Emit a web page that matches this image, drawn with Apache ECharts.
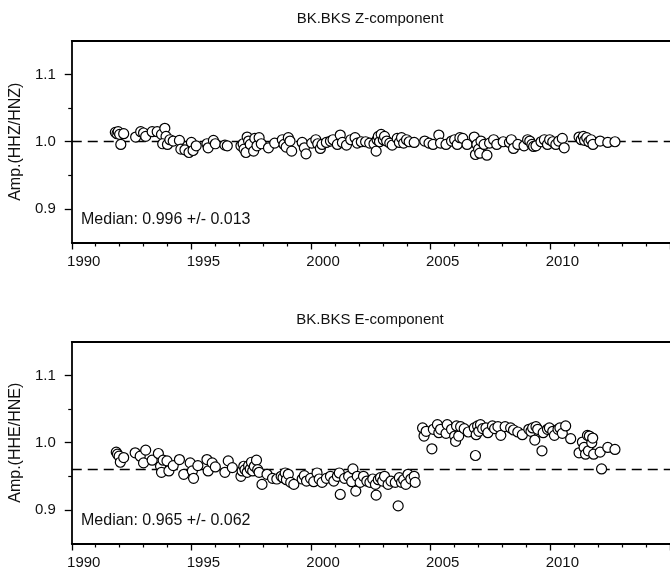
<!DOCTYPE html>
<html>
<head>
<meta charset="utf-8">
<script src="https://cdn.jsdelivr.net/npm/echarts@6/dist/echarts.min.js"></script>
<style>
  html, body { margin: 0; padding: 0; background: #fff; }
  #main { width: 670px; height: 577px; }
</style>
</head>
<body>
<div id="main"></div>
<script>
// panel titles and y axis names
var panelTitles = ['BK.BKS Z-component', 'BK.BKS E-component'];
var axisNames = ['Amp.(HHZ/HNZ)', 'Amp.(HHE/HNE)'];
var medians = [0.996, 0.965];
var spreads = [0.013, 0.062];
var yMajorTicks = [0.9, 1.0, 1.1];
var yMinorTicks = [0.95, 1.05];

// Z component: [decimal year, amplitude ratio]
var zData = [
  [1991.82, 1.014], [1991.89, 1.012], [1991.94, 1.015], [1992.00, 1.011], [1992.05, 0.996], [1992.17, 1.012],
  [1992.67, 1.007], [1992.88, 1.015], [1993.00, 1.013], [1993.09, 1.008], [1993.36, 1.015], [1993.57, 1.015],
  [1993.75, 1.011], [1993.89, 1.020], [1993.94, 1.008], [1993.80, 0.997], [1994.00, 0.996], [1994.10, 1.003],
  [1994.24, 1.001], [1994.50, 1.002], [1994.56, 0.989], [1994.73, 0.988], [1994.90, 0.984], [1995.00, 0.999],
  [1995.07, 0.987], [1995.20, 0.994], [1995.65, 0.997], [1995.70, 0.991], [1995.92, 1.002], [1996.00, 0.997],
  [1996.40, 0.995], [1996.50, 0.994],
  [1997.07, 0.994], [1997.16, 0.997], [1997.20, 0.989], [1997.28, 0.984], [1997.33, 1.007], [1997.39, 1.001],
  [1997.46, 0.996], [1997.60, 0.986], [1997.65, 1.005], [1997.74, 0.994], [1997.83, 1.006], [1997.92, 0.997],
  [1998.22, 0.991], [1998.48, 0.998], [1998.80, 1.003], [1998.87, 0.996], [1998.96, 0.992], [1999.05, 1.006],
  [1999.12, 1.001], [1999.19, 0.986], [1999.63, 0.999], [1999.72, 0.991], [1999.79, 0.982], [2000.03, 0.998],
  [2000.20, 1.003], [2000.28, 0.997], [2000.39, 0.990], [2000.46, 0.996], [2000.64, 0.999], [2000.81, 1.001],
  [2000.92, 1.003], [2001.10, 0.996], [2001.22, 1.010], [2001.31, 0.999], [2001.48, 0.995], [2001.66, 1.003],
  [2001.84, 1.006], [2001.93, 0.998], [2002.10, 1.000], [2002.28, 1.000], [2002.45, 0.998],
  [2002.63, 0.997], [2002.72, 0.986], [2002.76, 1.003], [2002.81, 1.008], [2002.86, 1.000], [2002.93, 1.011],
  [2003.02, 1.003], [2003.07, 1.008], [2003.16, 1.001], [2003.29, 0.998], [2003.39, 0.995], [2003.60, 1.005],
  [2003.69, 0.999], [2003.78, 1.006], [2003.87, 0.998], [2003.99, 1.003], [2004.10, 1.000], [2004.31, 0.999],
  [2004.75, 1.001], [2004.93, 0.998], [2005.10, 0.996], [2005.34, 1.010], [2005.41, 0.998], [2005.64, 0.996],
  [2005.87, 1.001], [2006.00, 1.003], [2006.11, 0.996], [2006.22, 1.006], [2006.34, 1.005], [2006.52, 0.996],
  [2006.82, 1.007], [2006.87, 0.981], [2006.93, 0.996], [2007.00, 0.989], [2007.05, 0.983], [2007.10, 1.001],
  [2007.23, 0.996], [2007.35, 0.980], [2007.46, 0.998], [2007.63, 1.003], [2007.76, 0.996], [2008.03, 1.000],
  [2008.29, 0.999], [2008.37, 1.003], [2008.46, 0.990], [2008.64, 0.996], [2008.90, 0.994], [2009.05, 1.003],
  [2009.14, 1.001], [2009.23, 0.996], [2009.30, 0.993], [2009.40, 0.994], [2009.61, 1.000], [2009.75, 1.003],
  [2009.88, 0.996], [2009.97, 1.003], [2010.10, 1.000], [2010.23, 0.996], [2010.35, 1.001], [2010.50, 1.005],
  [2010.58, 0.991],
  [2011.20, 1.007], [2011.29, 1.003], [2011.38, 1.008], [2011.43, 1.002], [2011.52, 1.006], [2011.61, 1.000],
  [2011.70, 1.003], [2011.78, 0.996], [2012.08, 1.001], [2012.40, 0.999], [2012.70, 1.000]
];

// E component: [decimal year, amplitude ratio]
var eData = [
  [1991.86, 0.986], [1991.91, 0.983], [1991.98, 0.980], [1992.03, 0.971], [1992.17, 0.978],
  [1992.65, 0.985], [1992.86, 0.980], [1993.00, 0.970], [1993.09, 0.989], [1993.36, 0.974], [1993.62, 0.984],
  [1993.71, 0.965], [1993.75, 0.956], [1993.82, 0.974], [1993.98, 0.973], [1994.06, 0.958], [1994.24, 0.966],
  [1994.50, 0.975], [1994.68, 0.953], [1994.95, 0.970], [1995.04, 0.958], [1995.09, 0.947], [1995.27, 0.966],
  [1995.65, 0.975], [1995.70, 0.958], [1995.87, 0.970], [1996.00, 0.964], [1996.40, 0.956], [1996.54, 0.973],
  [1996.71, 0.963],
  [1997.07, 0.950], [1997.12, 0.958], [1997.19, 0.965], [1997.24, 0.960], [1997.33, 0.956], [1997.39, 0.966],
  [1997.46, 0.961], [1997.51, 0.971], [1997.56, 0.958], [1997.63, 0.965], [1997.72, 0.974], [1997.77, 0.960],
  [1997.83, 0.956], [1997.95, 0.938], [1998.16, 0.953], [1998.39, 0.947], [1998.57, 0.946], [1998.75, 0.950],
  [1998.83, 0.948], [1998.92, 0.955], [1998.97, 0.945], [1999.05, 0.953], [1999.15, 0.941], [1999.28, 0.938],
  [1999.63, 0.946], [1999.72, 0.951], [1999.81, 0.943], [1999.98, 0.947], [2000.11, 0.942], [2000.25, 0.955],
  [2000.34, 0.946], [2000.46, 0.941], [2000.64, 0.947], [2000.81, 0.950], [2000.95, 0.943], [2001.10, 0.950],
  [2001.18, 0.955], [2001.22, 0.923], [2001.40, 0.947], [2001.57, 0.950], [2001.70, 0.942], [2001.75, 0.961],
  [2001.87, 0.928], [2001.93, 0.950], [2002.05, 0.941], [2002.19, 0.950], [2002.33, 0.943], [2002.46, 0.941],
  [2002.58, 0.946], [2002.69, 0.938], [2002.72, 0.922], [2002.81, 0.945], [2002.90, 0.948], [2002.99, 0.943],
  [2003.07, 0.950], [2003.22, 0.938], [2003.34, 0.943], [2003.52, 0.941], [2003.64, 0.906], [2003.69, 0.948],
  [2003.78, 0.941], [2003.87, 0.945], [2003.96, 0.938], [2004.05, 0.953], [2004.17, 0.946], [2004.31, 0.950],
  [2004.35, 0.941],
  [2004.66, 1.022], [2004.72, 1.010], [2004.81, 1.017], [2005.05, 0.991], [2005.11, 1.020], [2005.28, 1.027],
  [2005.34, 1.015], [2005.41, 1.020], [2005.64, 1.014], [2005.69, 1.027], [2005.87, 1.020], [2006.00, 1.010],
  [2006.04, 1.002], [2006.08, 1.025], [2006.17, 1.010], [2006.25, 1.024], [2006.40, 1.021], [2006.57, 1.016],
  [2006.87, 0.981], [2006.82, 1.022], [2006.90, 1.012], [2006.96, 1.025], [2007.01, 1.017], [2007.08, 1.027],
  [2007.17, 1.021], [2007.31, 1.022], [2007.39, 1.015], [2007.58, 1.025], [2007.67, 1.021], [2007.81, 1.024],
  [2007.93, 1.011], [2008.11, 1.024], [2008.34, 1.022], [2008.46, 1.019], [2008.64, 1.016], [2008.83, 1.012],
  [2009.10, 1.020], [2009.19, 1.017], [2009.26, 1.022], [2009.35, 1.004], [2009.40, 1.024], [2009.47, 1.020],
  [2009.65, 0.988], [2009.70, 1.015], [2009.88, 1.020], [2009.96, 1.022], [2010.10, 1.017], [2010.17, 1.011],
  [2010.32, 1.020], [2010.40, 1.022], [2010.50, 1.014], [2010.64, 1.025], [2010.85, 1.006],
  [2011.20, 0.985], [2011.34, 1.001], [2011.41, 0.993], [2011.47, 0.983], [2011.55, 1.011], [2011.59, 0.988],
  [2011.63, 1.010], [2011.73, 1.000], [2011.77, 1.007], [2011.81, 0.983], [2012.08, 0.986], [2012.14, 0.961],
  [2012.40, 0.993], [2012.70, 0.990]
];

var panelData = [zData, eData];
var font = 'Liberation Sans, Arial, sans-serif';
var gridTops = [41, 342];
var gridH = 201.5;

var myChart = echarts.init(document.getElementById('main'));

var grids = [], xAxes = [], yAxes = [], series = [], titles = [];
for (var i = 0; i < 2; i++) {
    grids.push({ left: 69.3, top: gridTops[i], width: 603, height: gridH });
    xAxes.push({
        type: 'value', gridIndex: i, min: 1990, max: 2015, interval: 5,
        axisLine: { show: true, onZero: false, lineStyle: { color: '#000', width: 1.8 } },
        axisTick: { show: true, length: 7, lineStyle: { color: '#000', width: 1.3 } },
        minorTick: { show: true, splitNumber: 5, length: 4, lineStyle: { color: '#000', width: 1.2 } },
        splitLine: { show: false },
        axisLabel: {
            color: '#111', fontFamily: font, fontSize: 15, margin: 12,
            padding: [0, 0, 0, 24], showMaxLabel: false,
            formatter: function (v) { return String(v); }
        }
    });
    // top frame line
    xAxes.push({
        type: 'value', gridIndex: i, min: 1990, max: 2015, position: 'top',
        axisLine: { show: true, onZero: false, lineStyle: { color: '#000', width: 1.8 } },
        axisTick: { show: false }, axisLabel: { show: false }, splitLine: { show: false }
    });
    yAxes.push({
        type: 'value', gridIndex: i, min: 0.85, max: 1.15,
        name: axisNames[i], nameLocation: 'middle', nameGap: 44,
        nameTextStyle: { color: '#111', fontFamily: font, fontSize: 16 },
        axisLine: { show: true, onZero: false, lineStyle: { color: '#000', width: 1.8 } },
        axisTick: { show: true, length: 7, customValues: yMajorTicks, lineStyle: { color: '#000', width: 1.3 } },
        splitLine: { show: false },
        axisLabel: {
            color: '#111', fontFamily: font, fontSize: 15, margin: 16,
            customValues: yMajorTicks,
            formatter: function (v) { return v.toFixed(1); }
        }
    });
    // short ticks between the labelled ones
    yAxes.push({
        type: 'value', gridIndex: i, min: 0.85, max: 1.15, position: 'left',
        axisLine: { show: false },
        axisTick: { show: true, length: 3.5, customValues: yMinorTicks, lineStyle: { color: '#000', width: 1.2 } },
        axisLabel: { show: false },
        splitLine: { show: false }
    });
    series.push({
        type: 'scatter',
        xAxisIndex: i * 2,
        yAxisIndex: i * 2,
        data: panelData[i],
        symbol: 'circle',
        symbolSize: 10,
        z: 10,
        itemStyle: { color: '#fff', borderColor: '#000', borderWidth: 1.2, opacity: 1 },
        markLine: {
            silent: true, symbol: 'none', z: 1,
            label: { show: false },
            lineStyle: { color: '#000', width: 1.3, type: [10, 6] },
            data: [{ yAxis: medians[i] }]
        }
    });
    titles.push({
        text: panelTitles[i], left: 370, top: gridTops[i] - 30, textAlign: 'center', padding: 0,
        textStyle: { color: '#111', fontFamily: font, fontSize: 15, fontWeight: 'normal' }
    });
    titles.push({
        text: 'Median: ' + medians[i].toFixed(3) + ' +/- ' + spreads[i].toFixed(3),
        left: 81, top: gridTops[i] + 171, padding: 0,
        textStyle: { color: '#111', fontFamily: font, fontSize: 16, fontWeight: 'normal' }
    });
}

option = {
    animation: false,
    backgroundColor: '#fff',
    title: titles,
    grid: grids,
    xAxis: xAxes,
    yAxis: yAxes,
    series: series
};
myChart.setOption(option);
</script>
</body>
</html>
